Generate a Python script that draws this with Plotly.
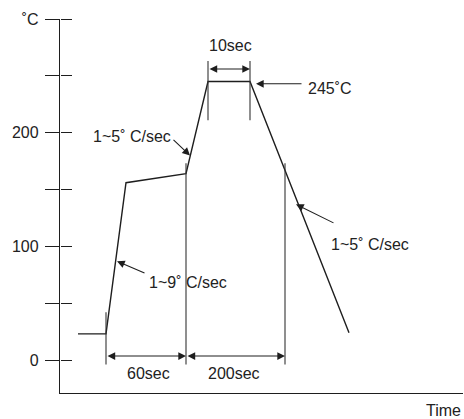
import plotly.graph_objects as go

# Reflow soldering profile (schematic), arbitrary time units
profile_time = [18, 46, 66, 126, 148, 190, 289]
profile_temp = [23, 23, 156, 164, 245, 245, 24]

# vertical guide marks
guide_time = [46, 126, 148, 190, 225]
guide_low = [-4, -4, 211, 211, -4]
guide_high = [42, 173, 263, 263, 173]

# dimension spans
span_start = [46, 126, 148]
span_end = [126, 225, 190]
span_temp = [3.5, 3.5, 256]
span_labels = ["60sec", "200sec", "10sec"]
span_label_time = [88, 174, 170]
span_label_temp = [-12, -12, 277]

# callouts: label, text position, arrow tail, arrow head
call_labels = ["1~5˚ C/sec", "1~9˚ C/sec", "1~5˚ C/sec", "245˚C"]
call_text_time = [72, 128, 310, 270]
call_text_temp = [197, 68, 102, 239]
call_tail_time = [112, 86, 275, 243]
call_tail_temp = [195, 76, 120, 243]
call_head_time = [130, 57, 236, 196]
call_head_temp = [180, 87, 137, 243]

tick_vals = [0, 50, 100, 150, 200, 250, 300]
tick_text = ["0", "", "100", "", "200", "", "˚C"]

x_range = [0, 403]
y_range = [-29, 300]

ink = "#1e1e1e"
font = dict(family="Liberation Sans, Arial, sans-serif", size=16, color="#222")

fig = go.Figure()

fig.add_trace(go.Scatter(x=profile_time, y=profile_temp, mode="lines",
                         line=dict(color=ink, width=1.4), showlegend=False,
                         hoverinfo="skip"))

gx, gy = [], []
for t, lo, hi in zip(guide_time, guide_low, guide_high):
    gx += [t, t, None]
    gy += [lo, hi, None]
fig.add_trace(go.Scatter(x=gx, y=gy, mode="lines",
                         line=dict(color="#333", width=1.1), showlegend=False,
                         hoverinfo="skip"))

# overlay axis used only for the inward half of the crossing ticks
fig.add_trace(go.Scatter(x=[None], y=[None], yaxis="y2", showlegend=False,
                         hoverinfo="skip"))

annotations = []
for s, e, t in zip(span_start, span_end, span_temp):
    annotations.append(dict(x=e, y=t, ax=s, ay=t, xref="x", yref="y",
                            axref="x", ayref="y", text="", showarrow=True,
                            arrowside="end+start", arrowhead=2, startarrowhead=2,
                            arrowsize=1.4, startarrowsize=1.4, arrowwidth=1.1,
                            arrowcolor=ink, standoff=0, startstandoff=0))
for lab, lx, ly in zip(span_labels, span_label_time, span_label_temp):
    ypaper = (ly - y_range[0]) / (y_range[1] - y_range[0])
    annotations.append(dict(x=lx, y=ypaper, xref="x", yref="paper", text=lab,
                            xanchor="center", yanchor="middle",
                            showarrow=False, font=font))
for lab, lx, ly, tx, ty, hx, hy in zip(call_labels, call_text_time, call_text_temp,
                                       call_tail_time, call_tail_temp,
                                       call_head_time, call_head_temp):
    annotations.append(dict(x=hx, y=hy, ax=tx, ay=ty, xref="x", yref="y",
                            axref="x", ayref="y", text="", showarrow=True,
                            arrowhead=2, arrowsize=1.4, arrowwidth=1.1,
                            arrowcolor=ink, standoff=0, startstandoff=0))
    annotations.append(dict(x=lx, y=ly, xref="x", yref="y", text=lab,
                            xanchor="center", yanchor="middle",
                            showarrow=False, font=font))
annotations.append(dict(x=1, y=-0.018, xref="paper", yref="paper", text="Time",
                        xanchor="right", yanchor="top", showarrow=False, font=font))

fig.update_layout(
    width=464, height=419,
    margin=dict(l=60, r=1, t=19, b=26),
    paper_bgcolor="white", plot_bgcolor="white",
    xaxis=dict(range=x_range, domain=[0, 1], showgrid=False, zeroline=False,
               showticklabels=False, ticks="", showline=True, linecolor=ink,
               linewidth=1.4, fixedrange=True),
    yaxis=dict(range=y_range, showgrid=False, zeroline=False, showline=True,
               linecolor=ink, linewidth=1.4, tickvals=tick_vals, ticktext=tick_text,
               ticks="outside", ticklen=14, tickwidth=1.1, tickcolor=ink,
               tickfont=font, ticklabelstandoff=3, automargin=False),
    yaxis2=dict(range=y_range, overlaying="y", side="right", anchor="free",
                position=0, showgrid=False, zeroline=False, showline=False,
                tickvals=tick_vals, showticklabels=False, ticks="outside",
                ticklen=11, tickwidth=1.1, tickcolor=ink, automargin=False),
    annotations=annotations,
    showlegend=False,
)

fig.write_html("out.html", config={"displayModeBar": False},
               post_script="document.body.style.margin='0';")
